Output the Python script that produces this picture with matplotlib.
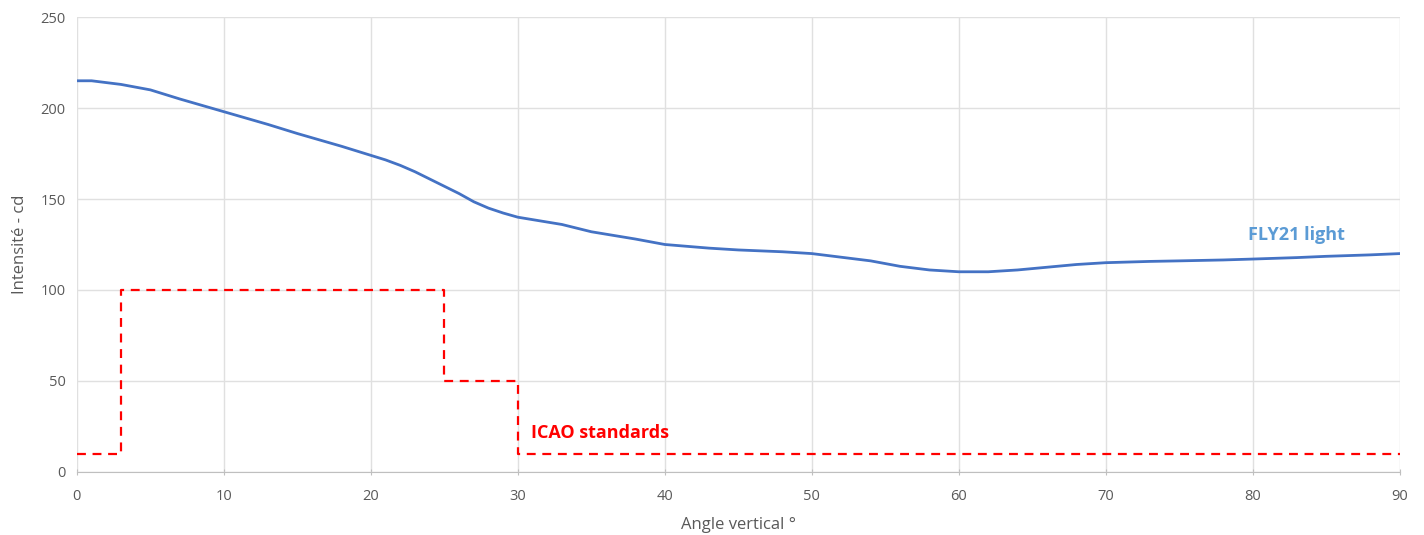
import matplotlib
matplotlib.use("Agg")
import matplotlib.pyplot as plt

#======#
# Data #
#======#

angles = [0, 1, 3, 5, 7, 10, 13, 15, 18, 20, 21, 22, 23, 24, 25, 26, 27, 28, 29, 30, 33, 35, 38, 40, 43, 45,
          48, 50, 52, 54, 56, 58, 60, 62, 64, 66, 68, 70, 73, 75, 78, 80, 83, 85, 88, 90]
fly21 = [215, 215, 213, 210, 205, 198, 191, 186, 179, 174, 171.5, 168.5, 165, 161, 157, 153, 148.5, 145, 142.3,
         140, 136, 132, 128, 125, 123, 122, 121, 120, 118, 116, 113, 111, 110, 110, 111, 112.5, 114, 115,
         115.7, 116, 116.5, 117, 117.8, 118.5, 119.3, 120]

icao_angles = [0, 3, 3, 25, 25, 30, 30, 90]
icao_values = [10, 10, 100, 100, 50, 50, 10, 10]

x_ticks = [0, 10, 20, 30, 40, 50, 60, 70, 80, 90]
y_ticks = [0, 50, 100, 150, 200, 250]

BLUE = "#4472C4"
RED = "#FF0000"
GRID = "#E0E0E0"
TEXT = "#595959"

plt.rcParams['font.family'] = ['Open Sans', 'DejaVu Sans']

fig = plt.figure(figsize=(14.24, 5.35), dpi=100)
ax = fig.add_axes([0.054, 0.118, 0.929, 0.85])

ax.plot(angles, fly21, color=BLUE, linewidth=2, solid_capstyle='round')
ax.plot(icao_angles, icao_values, color=RED, linewidth=1.6, dashes=(4, 3))

ax.text(83, 130, "FLY21 light", color="#5B9BD5", fontsize=13, fontweight='bold', ha='center', va='center')
ax.text(30.9, 21.5, "ICAO standards", color=RED, fontsize=13, fontweight='bold', ha='left', va='center')

ax.set_xlim(0, 90)
ax.set_ylim(0, 250)
ax.set_xticks(x_ticks)
ax.set_yticks(y_ticks)
ax.grid(True, color=GRID, linewidth=1)
ax.set_axisbelow(True)

for side in ['top', 'right', 'left']:
    ax.spines[side].set_visible(False)
ax.spines['bottom'].set_color("#BFBFBF")

ax.tick_params(axis='both', colors=TEXT, labelsize=10.5, length=0, pad=8)
ax.tick_params(axis='x', length=4, color="#BFBFBF", direction='inout', pad=10)

ax.set_xlabel("Angle vertical °", color=TEXT, fontsize=12, labelpad=10)
ax.set_ylabel("Intensité - cd", color=TEXT, fontsize=12, labelpad=9)

fig.savefig("out.png", dpi=100)
